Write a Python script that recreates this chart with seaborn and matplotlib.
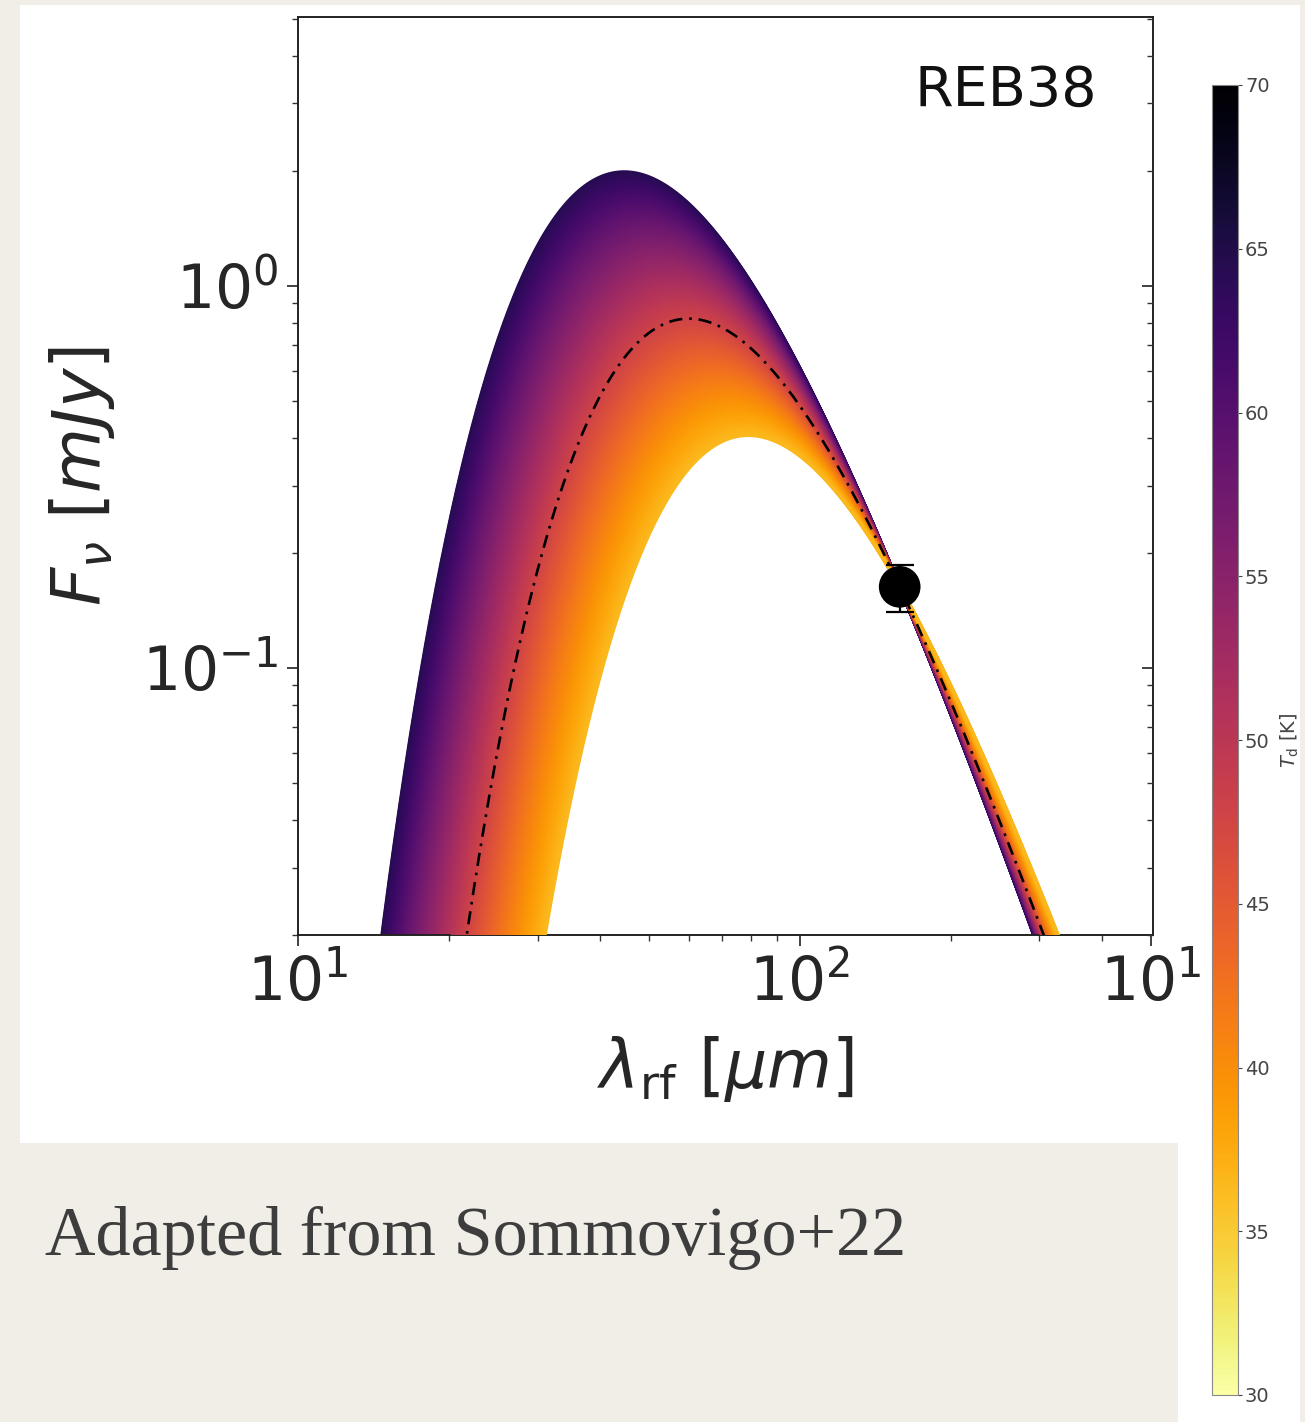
import numpy as np
import pandas as pd
import matplotlib
matplotlib.use("Agg")
import matplotlib.pyplot as plt
import seaborn as sns
from matplotlib.patches import Rectangle
from matplotlib.colors import Normalize
from matplotlib.cm import ScalarMappable
from matplotlib.ticker import LogLocator, NullFormatter, FixedLocator, FixedFormatter

# ---------------- data ----------------
source_name = "REB38"
obs_wavelength_um = [158.0]          # rest-frame wavelength of the continuum point
obs_flux_mjy = [0.163]               # measured flux density
obs_flux_err_mjy = [0.023]
temp_range_k = [36.5, 64.5]          # dust temperatures spanned by the model family
best_temp_k = 48.0                   # dash-dotted model
beta_dust = 2.03                     # emissivity index
cbar_limits = [30, 70]
cbar_ticks = [30, 35, 40, 45, 50, 55, 60, 65, 70]
x_ticks = [10, 100, 500]
x_ticklabels = [r"$10^1$", r"$10^2$", r"$10^1$"]
caption = "Adapted from Sommovigo+22"

HC_K = 14387.77  # h c / k in micron * K


def mbb(lam, T):
    """Optically thin modified blackbody, F_nu up to a constant."""
    x = HC_K / (lam * T)
    return (1.0 / lam) ** (3.0 + beta_dust) / np.expm1(x)


def scaled_sed(lam, T):
    return mbb(lam, T) / mbb(obs_wavelength_um[0], T) * obs_flux_mjy[0]


lam = np.geomspace(10, 520, 500)
temps = np.linspace(temp_range_k[0], temp_range_k[1], 320)
df = pd.DataFrame({
    "lam": np.tile(lam, len(temps)),
    "T": np.repeat(temps, len(lam)),
})
df["flux"] = np.concatenate([scaled_sed(lam, T) for T in temps])

# ---------------- figure ----------------
sns.set_style("ticks")
plt.rcParams["font.family"] = ["DejaVu Sans"]
plt.rcParams["mathtext.fontset"] = "dejavusans"

W, H = 1305, 1422
fig = plt.figure(figsize=(W / 100, H / 100), dpi=100, facecolor="#f1eee8")


def px_rect(x0, y0, x1, y1, **kw):
    fig.add_artist(Rectangle((x0 / W, 1 - y1 / H), (x1 - x0) / W, (y1 - y0) / H,
                             transform=fig.transFigure, lw=0, zorder=-5, **kw))


px_rect(20, 5, 1300, 1143, facecolor="white")
px_rect(1178, 5, 1300, 1422, facecolor="white")

ax = fig.add_axes([298 / W, 1 - 935 / H, 855 / W, 918 / H])
ax.set_facecolor("white")

cmap = "inferno_r"
sns.lineplot(data=df, x="lam", y="flux", hue="T", palette=cmap,
             hue_norm=tuple(cbar_limits), estimator=None, sort=False,
             legend=False, lw=2.4, ax=ax)
# colder curves drawn above the hotter ones
n = len(ax.lines)
for i, ln in enumerate(ax.lines):
    ln.set_zorder(2 + (n - i) / n)
    ln.set_solid_capstyle("butt")

best = scaled_sed(lam, best_temp_k)
ax.plot(lam, best, color="black", lw=1.9, ls=(0, (5.0, 2.6, 1.0, 2.6)), zorder=4)

ax.errorbar(obs_wavelength_um, obs_flux_mjy, yerr=obs_flux_err_mjy, fmt="none",
            ecolor="black", elinewidth=1.6, capsize=10, capthick=1.6, zorder=5)
sns.scatterplot(x=obs_wavelength_um, y=obs_flux_mjy, color="black", s=900,
                edgecolor="none", ax=ax, zorder=6)

ax.set_xscale("log")
ax.set_yscale("log")
ax.set_xlim(10, 505)
ax.set_ylim(0.02, 5.05)

ax.xaxis.set_major_locator(FixedLocator(x_ticks))
ax.xaxis.set_major_formatter(FixedFormatter(x_ticklabels))
ax.xaxis.set_minor_locator(LogLocator(base=10, subs=np.arange(2, 10)))
ax.xaxis.set_minor_formatter(NullFormatter())
ax.yaxis.set_major_locator(LogLocator(base=10))
ax.yaxis.set_minor_locator(LogLocator(base=10, subs=np.arange(2, 10)))
ax.yaxis.set_minor_formatter(NullFormatter())

ax.tick_params(axis="both", which="major", labelsize=43, length=8, width=1.3,
               color="#333333", pad=6)
ax.tick_params(axis="both", which="minor", length=4.5, width=1.0, color="#333333")
for s in ax.spines.values():
    s.set_linewidth(1.4)
    s.set_color("#222222")

# inward ticks on the right-hand spine
axr = ax.twinx()
axr.set_yscale("log")
axr.set_ylim(ax.get_ylim())
axr.yaxis.set_major_locator(LogLocator(base=10))
axr.yaxis.set_minor_locator(LogLocator(base=10, subs=np.arange(2, 10)))
axr.tick_params(axis="y", which="both", direction="in", labelright=False,
                color="#333333")
axr.tick_params(axis="y", which="major", length=8, width=1.3)
axr.tick_params(axis="y", which="minor", length=4.5, width=1.0)
for s in axr.spines.values():
    s.set_visible(False)

ax.set_xlabel(r"$\lambda_{\rm rf}\ [\mu m]$", fontsize=48)
ax.set_ylabel(r"$F_{\nu}\ [mJy]$", fontsize=48)
ax.xaxis.set_label_coords(0.5, -0.108)
ax.yaxis.set_label_coords(-0.212, 0.5)

ax.text(0.935, 0.92, source_name, transform=ax.transAxes, ha="right",
        va="center", fontsize=40, color="#111111")

# colour bar for the dust temperature
cax = fig.add_axes([1212 / W, 1 - 1395 / H, 26 / W, 1310 / H])
sm = ScalarMappable(norm=Normalize(*cbar_limits), cmap=cmap)
cb = fig.colorbar(sm, cax=cax)
cb.set_ticks(cbar_ticks)
cb.ax.tick_params(labelsize=14, length=3, width=0.8, colors="#444444", pad=2)
cb.outline.set_linewidth(0.8)
cb.outline.set_edgecolor("#888888")
cb.set_label(r"$T_{\rm d}$ [K]", fontsize=14, color="#444444", labelpad=6)

fig.text(45 / W, 1 - 1255 / H, caption, fontsize=50.5, color="#3d3d3d",
         family="Liberation Serif", ha="left", va="baseline")

fig.savefig("out.png", dpi=100, facecolor=fig.get_facecolor())
